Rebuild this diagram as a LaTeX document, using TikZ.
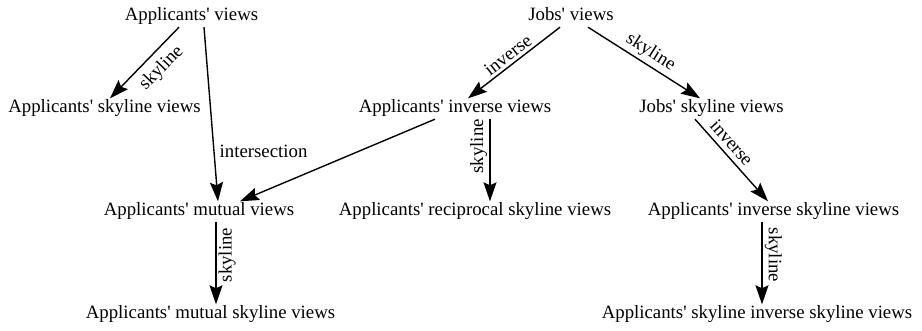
\documentclass[tikz,border=0pt]{standalone}
\usepackage{fontspec}
\setmainfont{Liberation Serif}
\usetikzlibrary{arrows.meta}
\newcommand\ap{\textquotesingle}
\begin{document}
\begin{tikzpicture}[x=1pt,y=-1pt,
  lbl/.style={font=\fontsize{18.8}{22}\selectfont, inner sep=2pt, text height=12.5pt, text depth=4pt, anchor=base},
  elbl/.style={font=\fontsize{18.8}{22}\selectfont, inner sep=2pt},
  arr/.style={line width=1.4pt, -{Stealth[length=19pt,width=13pt,inset=3pt]}}]
\useasboundingbox (0,0) rectangle (922,331);
% nodes
\node[lbl] (av)    at (191.5,21)  {Applicants\ap{} views};
\node[lbl] (jv)    at (571,21)    {Jobs\ap{} views};
\node[lbl] (asv)   at (104.5,113) {Applicants\ap{} skyline views};
\node[lbl] (aiv)   at (455,113)   {Applicants\ap{} inverse views};
\node[lbl] (jsv)   at (711.5,113) {Jobs\ap{} skyline views};
\node[lbl] (amv)   at (199,216)   {Applicants\ap{} mutual views};
\node[lbl] (arsv)  at (475,216)   {Applicants\ap{} reciprocal skyline views};
\node[lbl] (aisv)  at (773.5,216) {Applicants\ap{} inverse skyline views};
\node[lbl] (amsv)  at (210.5,319) {Applicants\ap{} mutual skyline views};
\node[lbl] (asisv) at (757,319)   {Applicants\ap{} skyline inverse skyline views};
% connectors
\draw[arr] ([xshift=-12.5pt]av.south) -- ([xshift=5.5pt]asv.north)
  node[elbl, sloped, below, pos=0.42, inner sep=7pt] {skyline};
\draw[arr] ([xshift=12.5pt]av.south) -- ([xshift=19pt]amv.north)
  node[elbl, pos=0.716, right, xshift=3pt] {intersection};
\draw[arr] ([xshift=-11pt]jv.south) -- ([xshift=13pt]aiv.north)
  node[elbl, sloped, above, pos=0.5, inner sep=3pt] {inverse};
\draw[arr] ([xshift=17pt]jv.south) -- ([xshift=-11.5pt]jsv.north)
  node[elbl, sloped, above, pos=0.5, inner sep=3pt] {skyline};
\draw[arr] ([xshift=-16.5pt]jsv.south) -- ([xshift=-5.5pt]aisv.north)
  node[elbl, sloped, above, pos=0.38, inner sep=5pt] {inverse};
\draw[arr] ([xshift=-11.5pt]aisv.south) -- ([xshift=5pt]asisv.north)
  node[elbl, pos=0.4, rotate=-90, anchor=south] {skyline};
\draw[arr] ([xshift=35pt]aiv.south) -- ([xshift=15pt]arsv.north)
  node[elbl, pos=0.33, rotate=90, anchor=south] {skyline};
\draw[arr] ([xshift=-20pt]aiv.south) -- ([xshift=41pt]amv.north);
\draw[arr] ([xshift=17pt]amv.south) -- ([xshift=5.5pt]amsv.north)
  node[elbl, pos=0.4, rotate=90, anchor=north] {skyline};
\end{tikzpicture}
\end{document}
